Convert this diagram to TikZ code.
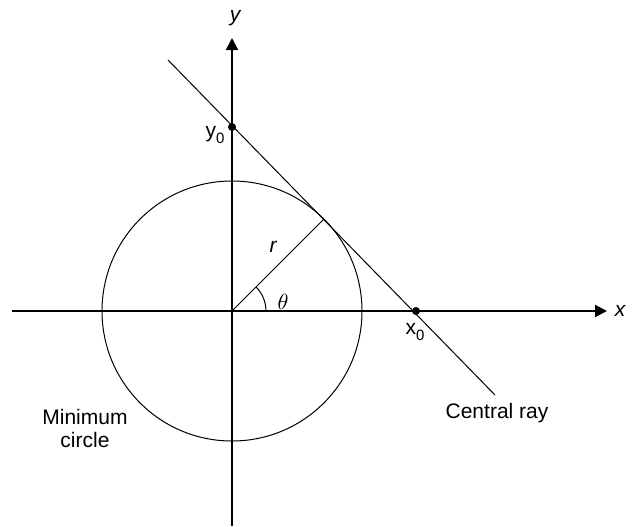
\documentclass[tikz,border=0pt]{standalone}
\usepackage{fontspec}
\setmainfont{Liberation Sans}
\usetikzlibrary{arrows.meta}
\tikzset{
  axis/.style={line width=1pt, -{Triangle[length=6pt,width=6pt]}},
  thinline/.style={line width=0.5pt},
  lbl/.style={font=\fontsize{10.5}{11.5}\selectfont, inner sep=0pt},
  dot/.style={circle, fill=black, inner sep=0pt, minimum size=4pt}
}
\newcommand{\subz}{\raisebox{-0.25em}{\fontsize{7.5}{8}\selectfont 0}}
\begin{document}
\begin{tikzpicture}[x=0.5pt,y=0.5pt]
        \useasboundingbox (-232,-215) rectangle (403,311);
        % axes
        \coordinate (xl) at (-220,0); \coordinate (xr) at (375,0);
        \coordinate (yb) at (0,-215); \coordinate (yt) at (0,273);
        \coordinate (O) at (0,0);
        \draw[axis] (xl) -- (xr);
        \draw[axis] (yb) -- (yt);
        \node[lbl] (xlab) at (388,0) {\itshape x};
        \node[lbl] (ylab) at (3,293) {\itshape y};

        % minimum circle and radius
        \draw[thinline] (O) circle (130);
        \coordinate (T) at (45:130);
        \draw[thinline] (O) -- (T);
        \draw[thinline] (34,0) arc (0:45:34);
        \node[lbl] (rlab) at (41,64) {\itshape r};
        \node[lbl] (thlab) at (51,9) {$\theta$};

        % central ray
        \coordinate (c1) at (-64,251); \coordinate (c2) at (263,-84);
        \draw[thinline] (c1) -- (c2);
        \node[dot] (y0) at (0,184) {};
        \node[dot] (x0) at (184,0) {};
        \node[lbl] (y0lab) at (-17,176) {y\subz};
        \node[lbl] (x0lab) at (183,-21) {x\subz};

        \node[lbl, align=center] (mincirc) at (-147,-117) {Minimum\\circle};
        \node[lbl] (ray) at (265,-102) {Central ray};
      \end{tikzpicture}
\end{document}
